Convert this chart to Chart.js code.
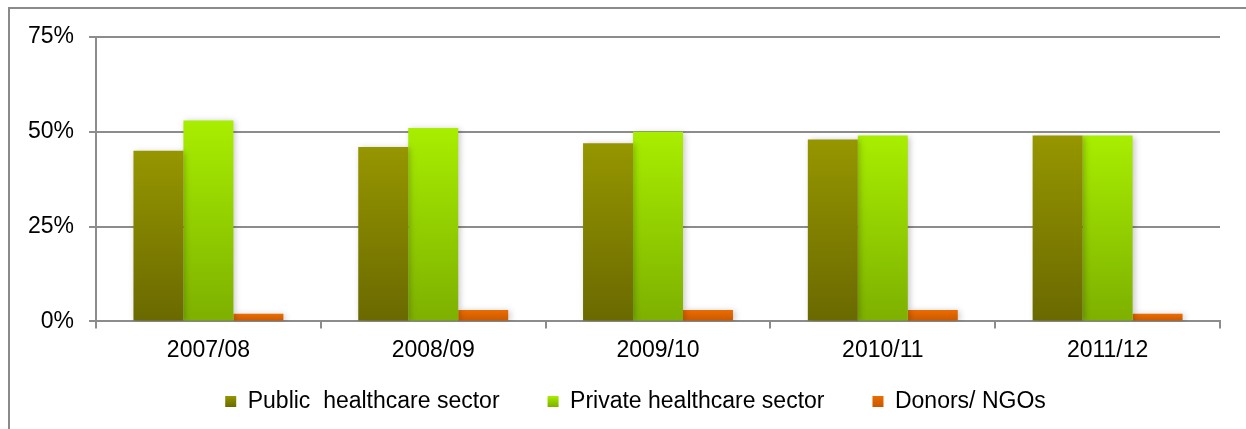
<!DOCTYPE html>
<html>
<head>
<meta charset="utf-8">
<script src="https://cdn.jsdelivr.net/npm/chart.js@4"></script>
<style>
  html, body { margin: 0; padding: 0; background: #fff; }
  #wrap { position: relative; width: 1246px; height: 429px; }
</style>
</head>
<body>
<div id="wrap"><canvas id="chart" width="1246" height="429"></canvas></div>
<script>
// Data
const years = ['2007/08', '2008/09', '2009/10', '2010/11', '2011/12'];
const publicSector = [45, 46, 47, 48, 49];
const privateSector = [53, 51, 50, 49, 49];
const donors = [2, 3, 3, 3, 2];
const yTicks = [0, 25, 50, 75];

const seriesColors = [
  ['#969600', '#6a6900'],
  ['#a8ee00', '#7db000'],
  ['#ec6c00', '#c85800'],
];

const FONT = { family: '"Liberation Sans", Arial, sans-serif', size: 23 };
const BOX = 11;        // visible legend square
const BOX_SLOT = 41;   // legend box slot, extra room acts as spacing
const LEGEND_SHIFT = 4;

// Vertical gradient per bar (top colour -> bottom colour)
const barGradient = (top, bottom) => (context) => {
  const chart = context.chart;
  const yScale = chart.scales.y;
  if (!chart.chartArea || !yScale || context.raw === undefined) return top;
  const y0 = yScale.getPixelForValue(0);
  const y1 = yScale.getPixelForValue(context.raw);
  if (!isFinite(y0) || !isFinite(y1) || y0 === y1) return top;
  const g = chart.ctx.createLinearGradient(0, y1, 0, y0);
  g.addColorStop(0, top);
  g.addColorStop(1, bottom);
  return g;
};

// Outer frame (left + top edges only, the rest is cropped in the reference)
const framePlugin = {
  id: 'frame',
  afterDraw(chart) {
    const ctx = chart.ctx;
    ctx.save();
    ctx.strokeStyle = '#8a8a8a';
    ctx.lineWidth = 2;
    ctx.beginPath();
    ctx.moveTo(9, 429);
    ctx.lineTo(9, 8);
    ctx.lineTo(1246, 8);
    ctx.stroke();
    ctx.restore();
  },
};

// Nudge legend sideways and paint gradient squares in its box slots
const legendBoxPlugin = {
  id: 'legendBoxes',
  afterLayout(chart) {
    const legend = chart.legend;
    if (!legend) return;
    legend.left += LEGEND_SHIFT;
    legend.right += LEGEND_SHIFT;
  },
  afterDraw(chart) {
    const legend = chart.legend;
    if (!legend || !legend.legendHitBoxes) return;
    const ctx = chart.ctx;
    legend.legendHitBoxes.forEach((hb, i) => {
      const x = hb.left + BOX_SLOT - BOX;
      const y = hb.top + (hb.height - BOX) / 2;
      const g = ctx.createLinearGradient(0, y, 0, y + BOX);
      g.addColorStop(0, seriesColors[i][0]);
      g.addColorStop(1, seriesColors[i][1]);
      ctx.save();
      ctx.fillStyle = g;
      ctx.fillRect(x, y, BOX, BOX);
      ctx.restore();
    });
  },
};

// Soft drop shadow behind bars
const shadowPlugin = {
  id: 'barShadow',
  beforeDatasetsDraw(chart) {
    const ctx = chart.ctx;
    ctx.save();
    ctx.shadowColor = 'rgba(0,0,0,0.22)';
    ctx.shadowBlur = 6;
    ctx.shadowOffsetX = 2;
    ctx.shadowOffsetY = 1;
  },
  afterDatasetsDraw(chart) {
    chart.ctx.restore();
  },
};

const ctx = document.getElementById('chart').getContext('2d');
new Chart(ctx, {
  type: 'bar',
  data: {
    labels: years,
    datasets: [
      {
        label: 'Public  healthcare sector',
        data: publicSector,
        backgroundColor: barGradient(...seriesColors[0]),
      },
      {
        label: 'Private healthcare sector',
        data: privateSector,
        backgroundColor: barGradient(...seriesColors[1]),
      },
      {
        label: 'Donors/ NGOs',
        data: donors,
        backgroundColor: barGradient(...seriesColors[2]),
      },
    ],
  },
  options: {
    responsive: false,
    animation: false,
    maintainAspectRatio: false,
    layout: {
      padding: { left: 13, right: 26, top: 37, bottom: 6 },
    },
    datasets: {
      bar: {
        categoryPercentage: 0.667,
        barPercentage: 1.0,
      },
    },
    scales: {
      x: {
        offset: true,
        grid: {
          offset: true,
          drawOnChartArea: false,
          drawTicks: true,
          tickLength: 7,
          color: '#8c8c8c',
          lineWidth: 2,
        },
        border: { color: '#8c8c8c', width: 2 },
        ticks: {
          color: '#000',
          font: FONT,
          padding: 8,
          maxRotation: 0,
        },
      },
      y: {
        min: 0,
        max: 75,
        afterBuildTicks: (axis) => {
          axis.ticks = yTicks.map((v) => ({ value: v }));
        },
        grid: {
          color: '#8c8c8c',
          lineWidth: 2,
          tickLength: 7,
        },
        border: { color: '#8c8c8c', width: 2 },
        ticks: {
          color: '#000',
          font: FONT,
          padding: 15,
          callback: (v) => v + '%',
        },
      },
    },
    plugins: {
      legend: {
        position: 'bottom',
        labels: {
          boxWidth: BOX_SLOT,
          boxHeight: BOX,
          padding: 18,
          color: '#000',
          font: FONT,
          generateLabels: (chart) =>
            Chart.defaults.plugins.legend.labels.generateLabels(chart).map((item) => ({
              ...item,
              fillStyle: 'rgba(0,0,0,0)',
              strokeStyle: 'rgba(0,0,0,0)',
              lineWidth: 0,
            })),
        },
      },
      tooltip: { enabled: false },
    },
  },
  plugins: [shadowPlugin, legendBoxPlugin, framePlugin],
});
</script>
</body>
</html>
